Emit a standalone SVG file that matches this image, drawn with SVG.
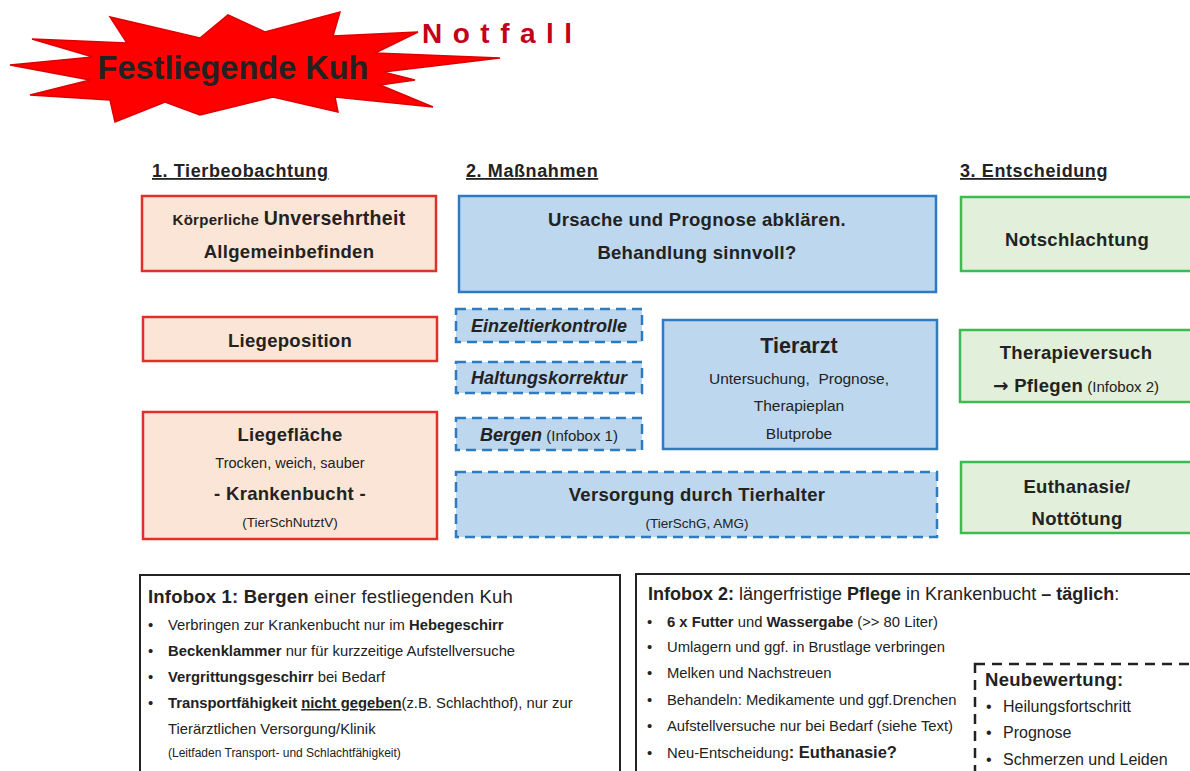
<svg xmlns="http://www.w3.org/2000/svg" width="1190" height="771" viewBox="0 0 1190 771">
<style>
text{font-family:"Liberation Sans",Arial,sans-serif;fill:#222}
.b{font-weight:bold}
.hd{font-size:18px;font-weight:bold;text-decoration:underline;letter-spacing:0.6px}
.red{fill:#fbe5d6;stroke:#e0302a;stroke-width:2.5}
.blue{fill:#bdd7ee;stroke:#2e7bc4;stroke-width:2.5}
.bluedash{fill:#bdd7ee;stroke:#2e7bc4;stroke-width:2.5;stroke-dasharray:10 6}
.green{fill:#e2efda;stroke:#3cbc50;stroke-width:2.5}
.info{fill:#fff;stroke:#222;stroke-width:2}
.c{text-anchor:middle}
.t17{font-size:18.5px;font-weight:bold;letter-spacing:0.3px}
.it{font-size:18px;font-weight:bold;font-style:italic}
.li{font-size:14.8px}
</style>
<rect width="1190" height="771" fill="#fff"/>
<g id="starburst">
<polygon points="10,65 93,57 32,39 127,43 110,17 200,38 228,15 265,32 340,12 333,36 418,32 375,53 500,58 383,72 415,80 380,85 433,107 335,97 338,112 273,97 200,115 165,102 115,122 110,100 30,95 90,80" fill="#ff0000" stroke="#dd0000" stroke-width="1.5" stroke-linejoin="miter"/>
<text x="233" y="79" class="c b" font-size="32.5">Festliegende Kuh</text>
<text x="422" y="43" class="b" font-size="28" letter-spacing="10.5" style="fill:#c4001a">Notfall</text>
</g>
<g id="headers">
<text x="152" y="177" class="hd">1. Tierbeobachtung</text>
<text x="466" y="177" class="hd">2. Maßnahmen</text>
<text x="960" y="177" class="hd">3. Entscheidung</text>
</g>
<g id="n-koerper">
<rect x="142" y="196" width="294" height="75" class="red"/>
<text x="289" y="225" class="c b" letter-spacing="0.3"><tspan font-size="15">Körperliche </tspan><tspan font-size="19.5">Unversehrtheit</tspan></text>
<text x="289" y="258" class="c t17">Allgemeinbefinden</text>
</g>
<g id="n-liegeposition">
<rect x="143" y="317" width="294" height="44" class="red"/>
<text x="290" y="347" class="c t17">Liegeposition</text>
</g>
<g id="n-liegeflaeche">
<rect x="143" y="412" width="294" height="127" class="red"/>
<text x="290" y="441" class="c t17">Liegefläche</text>
<text x="290" y="468" class="c" font-size="14.5">Trocken, weich, sauber</text>
<text x="290" y="500" class="c t17" font-size="19.5">- Krankenbucht -</text>
<text x="290" y="527" class="c" font-size="13.5">(TierSchNutztV)</text>
</g>
<g id="n-ursache">
<rect x="459" y="196" width="477" height="96" class="blue"/>
<text x="697" y="226" class="c t17">Ursache und Prognose abklären.</text>
<text x="697" y="259" class="c t17">Behandlung sinnvoll?</text>
</g>
<g id="n-einzeltier">
<rect x="456" y="309" width="186" height="33" class="bluedash"/>
<text x="549" y="332" class="c it">Einzeltierkontrolle</text>
</g>
<g id="n-haltung">
<rect x="456" y="362" width="186" height="31" class="bluedash"/>
<text x="549" y="384" class="c it">Haltungskorrektur</text>
</g>
<g id="n-bergen">
<rect x="456" y="418" width="186" height="32" class="bluedash"/>
<text x="549" y="441" class="c"><tspan class="it">Bergen</tspan><tspan font-size="15"> (Infobox 1)</tspan></text>
</g>
<g id="n-tierarzt">
<rect x="663" y="320" width="274" height="129" class="blue"/>
<text x="799" y="353" class="c b" font-size="21.5">Tierarzt</text>
<text x="799" y="384" class="c" font-size="15.5" xml:space="preserve">Untersuchung,  Prognose,</text>
<text x="799" y="411" class="c" font-size="15.5">Therapieplan</text>
<text x="799" y="439" class="c" font-size="15.5">Blutprobe</text>
</g>
<g id="n-versorgung">
<rect x="456" y="472" width="481" height="65" class="bluedash"/>
<text x="697" y="501" class="c t17">Versorgung durch Tierhalter</text>
<text x="697" y="528" class="c" font-size="13.5">(TierSchG, AMG)</text>
</g>
<g id="n-notschlachtung">
<rect x="961" y="197" width="240" height="74" class="green"/>
<text x="1077" y="246" class="c t17">Notschlachtung</text>
</g>
<g id="n-therapie">
<rect x="960" y="330" width="240" height="72" class="green"/>
<text x="1076" y="359" class="c t17">Therapieversuch</text>
<text x="1076" y="392" class="c"><tspan class="t17" style="font-family:'DejaVu Sans',sans-serif" font-size="17">→</tspan><tspan class="t17"> Pflegen</tspan><tspan font-size="15"> (Infobox 2)</tspan></text>
</g>
<g id="n-euthanasie">
<rect x="961" y="462" width="240" height="71" class="green"/>
<text x="1077" y="493" class="c t17">Euthanasie/</text>
<text x="1077" y="525" class="c t17">Nottötung</text>
</g>
<g id="connectors"></g>
<g id="infobox1">
<rect x="140" y="575" width="480" height="230" class="info"/>
<text x="148" y="603" font-size="18.5" letter-spacing="0.2"><tspan class="b">Infobox 1: Bergen</tspan> einer festliegenden  Kuh</text>
<g class="li">
<text x="148" y="630">•</text>
<text x="168" y="630">Verbringen zur Krankenbucht nur im <tspan class="b">Hebegeschirr</tspan></text>
<text x="148" y="656">•</text>
<text x="168" y="656"><tspan class="b">Beckenklammer</tspan> nur für kurzzeitige  Aufstellversuche</text>
<text x="148" y="682">•</text>
<text x="168" y="682"><tspan class="b">Vergrittungsgeschirr</tspan> bei Bedarf</text>
<text x="148" y="708">•</text>
<text x="168" y="708"><tspan class="b">Transportfähigkeit </tspan><tspan class="b" style="text-decoration:underline">nicht gegeben</tspan>(z.B. Schlachthof), nur zur</text>
<text x="168" y="734">Tierärztlichen Versorgung/Klinik</text>
</g>
<text x="168" y="757" font-size="12">(Leitfaden Transport- und Schlachtfähigkeit)</text>
</g>
<g id="infobox2">
<rect x="636" y="574" width="580" height="230" class="info"/>
<text x="648" y="600" font-size="18"><tspan class="b">Infobox 2:</tspan> längerfristige <tspan class="b">Pflege</tspan> in Krankenbucht <tspan class="b">– täglich</tspan>:</text>
<g class="li">
<text x="647" y="627">•</text>
<text x="667" y="627"><tspan class="b">6 x Futter</tspan> und <tspan class="b">Wassergabe</tspan> (&gt;&gt; 80 Liter)</text>
<text x="647" y="652">•</text>
<text x="667" y="652">Umlagern und ggf. in Brustlage verbringen</text>
<text x="647" y="678">•</text>
<text x="667" y="678">Melken und Nachstreuen</text>
<text x="647" y="705">•</text>
<text x="667" y="705">Behandeln: Medikamente und ggf.Drenchen</text>
<text x="647" y="731">•</text>
<text x="667" y="731">Aufstellversuche nur bei Bedarf (siehe Text)</text>
<text x="647" y="758">•</text>
<text x="667" y="758">Neu-Entscheidung<tspan class="b" font-size="16.5">: Euthanasie?</tspan></text>
</g>
</g>
<g id="neubewertung">
<rect x="975" y="664" width="240" height="130" fill="#fff" stroke="#222" stroke-width="2.5" stroke-dasharray="10 7"/>
<text x="985" y="686" class="b" font-size="18.5" letter-spacing="0.3">Neubewertung:</text>
<g font-size="16">
<text x="986" y="712">•</text>
<text x="1003" y="712">Heilungsfortschritt</text>
<text x="986" y="738">•</text>
<text x="1003" y="738">Prognose</text>
<text x="986" y="765">•</text>
<text x="1003" y="765">Schmerzen und Leiden</text>
</g>
</g>
</svg>
